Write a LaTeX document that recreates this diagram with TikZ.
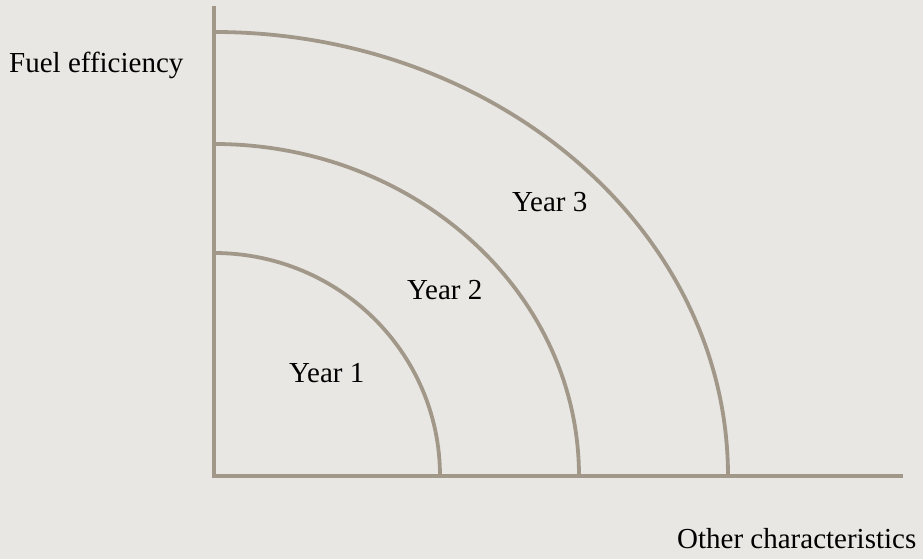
\documentclass[tikz,border=0pt]{standalone}
\usepackage{fontspec}
\setmainfont{Liberation Serif}
\definecolor{bgc}{HTML}{E9E7E3}
\definecolor{axc}{HTML}{A1988A}
\begin{document}
\begin{tikzpicture}[x=1pt,y=1pt,
  axisline/.style={draw=axc, line width=4.5pt},
  curveline/.style={draw=axc, line width=3.8pt},
  lbl/.style={anchor=base west, inner sep=0pt, font=\fontsize{29}{31}\selectfont, text=black}]
\fill[bgc] (0,0) rectangle (923,559);
\useasboundingbox (0,0) rectangle (923,559);
\coordinate (o) at (214,83);
\coordinate (ytop) at (214,553);
\coordinate (xend) at (903,83);
\draw[axisline] (ytop) -- (o) -- (xend);
\coordinate (a1) at (214,306);
\coordinate (a2) at (214,415);
\coordinate (a3) at (214,527);
\draw[curveline] (a1) arc[start angle=90, end angle=0, x radius=226, y radius=223];
\draw[curveline] (a2) arc[start angle=90, end angle=0, x radius=365, y radius=332];
\draw[curveline] (a3) arc[start angle=90, end angle=0, x radius=514, y radius=444];
\node[lbl] (fuel) at (9,486) {Fuel efficiency};
\node[lbl] (other) at (677,10) {Other characteristics};
\node[lbl] (y1) at (289,176) {Year 1};
\node[lbl] (y2) at (407,259) {Year 2};
\node[lbl] (y3) at (512,347) {Year 3};
\end{tikzpicture}
\end{document}
